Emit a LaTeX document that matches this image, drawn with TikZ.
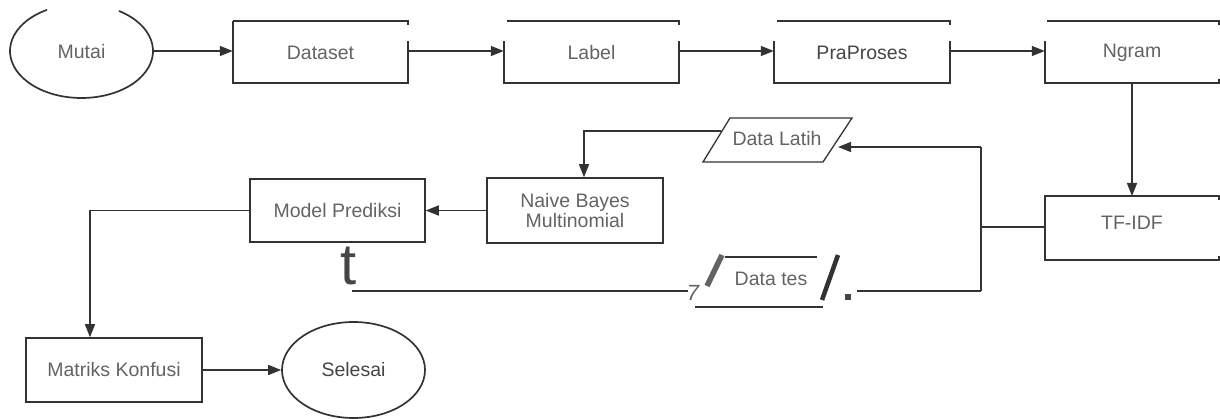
\documentclass[tikz,border=0pt]{standalone}
\usepackage{fontspec}
\setmainfont{Liberation Sans}
\usetikzlibrary{arrows.meta,shapes.geometric}
\definecolor{lc}{HTML}{333333}
\definecolor{txtc}{HTML}{636363}
\definecolor{txtd}{HTML}{454545}
\begin{document}
\begin{tikzpicture}[x=1pt,y=-1pt,
  fnt/.style={font=\fontsize{19.5}{21.5}\selectfont},
  bx/.style={rectangle, inner sep=0, fnt, text=txtc},
  lbl/.style={inner sep=0, fnt, text=txtc},
  ln/.style={draw=lc, line width=1.5pt},
  arr/.style={ln, -{Triangle[length=13pt,width=10pt]}}]
\useasboundingbox (0,0) rectangle (1220,419);

% ---- top row ----
\node[ellipse, inner sep=0, minimum width=143, minimum height=94, fnt, text=txtc] (mutai) at (81.5,52) {Mutai};
\draw[ln, line width=1.7pt] (118.97,10.97) arc[start angle=-58.4, end angle=241.2, x radius=71.5, y radius=47];

\node[bx, minimum width=175, minimum height=62] (ds) at (320.5,53) {Dataset};
\draw[ln] (233,21) -- (408,21) -- ++(0,4);
\draw[ln] (233,21) -- (233,83) -- (408,83) -- (408,41);

\node[bx, minimum width=175, minimum height=62] (lb) at (591.5,53) {Label};
\draw[ln] (507,21) -- (679,21) -- ++(0,4);
\draw[ln] (504,41) -- (504,83) -- (679,83) -- (679,41);

\node[bx, minimum width=176, minimum height=62, text=txtd] (pp) at (862,53) {PraProses};
\draw[ln] (777,21) -- (950,21) -- ++(0,4);
\draw[ln] (774,41) -- (774,83) -- (950,83) -- (950,41);

\node[bx, minimum width=174, minimum height=62] (ng) at (1132,53) {Ngram};
\draw[ln] (1047,21) -- (1219,21) -- ++(0,4);
\draw[ln] (1045,41) -- (1045,83) -- (1219,83) -- ++(0,-4);

\draw[arr] (153,51) -- (ds.west |- 0,51);
\draw[arr] (ds.east |- 0,51) -- (lb.west |- 0,51);
\draw[arr] (lb.east |- 0,51) -- (pp.west |- 0,51);
\draw[arr] (pp.east |- 0,51) -- (ng.west |- 0,51);

% ---- TF-IDF ----
\node[bx, minimum width=174, minimum height=64] (tf) at (1132,223) {TF-IDF};
\draw[ln] (1219,200) -- (1219,196) -- (1045,196) -- (1045,260) -- (1219,260) -- ++(0,-4);
\draw[arr] (ng.south |- 0,83) -- (tf.north |- 0,196);

\coordinate (jt) at (981,147);
\coordinate (jb) at (981,291);
\draw[ln] (1045,227) -- (jt |- 0,227);
\draw[ln] (jt) -- (jb);

% ---- Data Latih ----
\coordinate (dlA) at (703,162);
\coordinate (dlB) at (823,162);
\coordinate (dlC) at (852,118);
\coordinate (dlD) at (730,118);
\draw[ln, line width=1.3pt] (dlA) -- (dlB) -- (dlC) -- (dlD) -- cycle;
\node[lbl] (latih) at (777,139) {Data Latih};
\coordinate (latihR) at (838,147);
\coordinate (latihL) at (721,131);
\draw[arr] (jt) -- (latihR);

% ---- Naive Bayes ----
\node[bx, draw=lc, line width=1.5pt, minimum width=176, minimum height=65, align=center] (nb) at (575,210.5) {Naive Bayes\\[-1pt]Multinomial};
\draw[arr] (latihL) -| ([xshift=9pt]nb.north);

% ---- Model Prediksi ----
\node[bx, draw=lc, line width=1.5pt, minimum width=175, minimum height=63] (mp) at (337.5,210.5) {Model Prediksi};
\draw[arr] (nb.west) -- (mp.east);

% ---- Matriks Konfusi / Selesai ----
\node[bx, draw=lc, line width=1.5pt, minimum width=176, minimum height=64] (mk) at (114,370) {Matriks Konfusi};
\node[ellipse, draw=lc, line width=1.7pt, inner sep=0, minimum width=143, minimum height=96, fnt, text=txtd] (sel) at (353.5,370) {Selesai};
\draw[arr] (mp.west) -| ([xshift=-24pt]mk.north);
\draw[arr] (mk.east) -- (sel.west);

% ---- Data tes (damaged) ----
\node[lbl] (tes) at (771,279) {Data tes};
\draw[ln, line width=1.3pt] (725,257) -- (817,257);
\draw[ln, line width=1.3pt] (695,307) -- (823,307);
\draw[draw=txtc, line width=5.5pt] (722,255) -- (707,286);
\draw[draw=lc, line width=4.5pt] (838,255) -- (822,300);
\node[fill=txtd, inner sep=0, minimum size=6pt] (dot) at (848,297) {};
\draw[ln] (jb) -- ([xshift=6pt]dot.east |- jb);

\node[inner sep=0, text=txtc, font=\itshape\fontsize{22}{22}\selectfont] (seven) at (693,293) {7};
\node[inner sep=0, anchor=base, text=txtd, font=\fontsize{58}{58}\selectfont] (tt) at (348.5,285) {t};
\coordinate (tc) at (352,291);
\draw[ln] (tc) -- ([xshift=1pt]seven.west |- tc);
\end{tikzpicture}
\end{document}
